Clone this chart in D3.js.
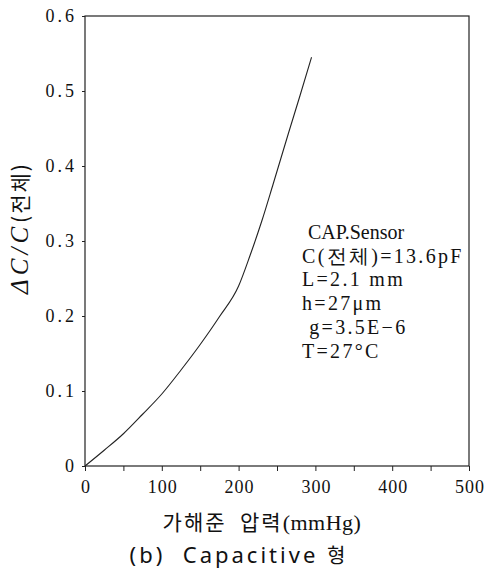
<!DOCTYPE html>
<html>
<head>
<meta charset="utf-8">
<script src="https://cdn.jsdelivr.net/npm/d3@7"></script>
<style>
  body { margin: 0; background: #fff; }
  svg text { fill: #111; }
</style>
</head>
<body>
<div id="chart"></div>
<script>
// data
const pressure = [0, 25, 50, 75, 100, 125, 150, 175, 200, 215, 230, 245, 265, 280, 295];
const dcc = [0, 0.021, 0.043, 0.069, 0.096, 0.128, 0.162, 0.199, 0.24, 0.281, 0.326, 0.376, 0.444, 0.494, 0.545];
const xTicks = [0, 100, 200, 300, 400, 500];
const xMinor = [50, 150, 250, 350, 450];
const yTicks = [0, 0.1, 0.2, 0.3, 0.4, 0.5, 0.6];
const notes = ["CAP.Sensor", "C(전체)=13.6pF", "L=2.1 mm", "h=27μm", " g=3.5E−6", "T=27°C"];

const W = 489, H = 570;
const margin = { top: 16, right: 20, bottom: 104, left: 85 };
const width = W - margin.left - margin.right;
const height = H - margin.top - margin.bottom;
const serif = "Liberation Serif";

const svg = d3.select("#chart").append("svg")
    .attr("width", W)
    .attr("height", H)
    .append("g")
    .attr("transform", `translate(${margin.left},${margin.top})`);

const x = d3.scaleLinear().domain([0, 500]).range([0, width]);
const y = d3.scaleLinear().domain([0, 0.6]).range([height, 0]);

// frame
svg.append("rect")
    .attr("width", width)
    .attr("height", height)
    .attr("fill", "none")
    .attr("stroke", "#222")
    .attr("stroke-width", 1.2);

// x axis ticks (labels drawn separately)
svg.append("g")
    .attr("transform", `translate(0,${height})`)
    .call(d3.axisBottom(x).tickValues(xTicks.concat(xMinor)).tickSize(5).tickFormat(""));

// y axis ticks
svg.append("g")
    .call(d3.axisLeft(y).tickValues(yTicks).tickSize(3).tickFormat(""));

svg.selectAll(".domain").remove();
svg.selectAll(".tick line").attr("stroke", "#222");

// tick labels
svg.append("g").selectAll("text")
    .data(xTicks).enter().append("text")
    .attr("x", d => x(d) + 1)
    .attr("y", height + 27)
    .attr("text-anchor", "middle")
    .style("font-family", serif)
    .style("font-size", "18px")
    .style("letter-spacing", "1px")
    .text(d => d);

svg.append("g").selectAll("text")
    .data(yTicks).enter().append("text")
    .attr("x", -8)
    .attr("y", d => y(d) + 6)
    .attr("text-anchor", "end")
    .style("font-family", serif)
    .style("font-size", "18px")
    .style("letter-spacing", "3px")
    .text(d => d === 0 ? "0" : d3.format(".1f")(d));

// curve
const line = d3.line()
    .x((d, i) => x(pressure[i]))
    .y(d => y(d))
    .curve(d3.curveMonotoneX);

svg.append("path")
    .datum(dcc)
    .attr("fill", "none")
    .attr("stroke", "#222")
    .attr("stroke-width", 1.1)
    .attr("d", line);

// annotation
svg.append("g").selectAll("text")
    .data(notes).enter().append("text")
    .attr("x", (d, i) => i === 0 ? 223 : 217)
    .attr("y", (d, i) => 223 + i * 23.7)
    .attr("xml:space", "preserve")
    .style("font-family", serif)
    .style("font-size", "20px")
    .style("letter-spacing", (d, i) => i === 0 ? "0px" : "2.3px")
    .text(d => d);

// axis labels
svg.append("text")
    .attr("transform", "rotate(-90)")
    .attr("x", -212)
    .attr("y", -57)
    .attr("text-anchor", "middle")
    .style("font-family", serif)
    .style("font-size", "25px")
    .style("letter-spacing", "4px")
    .html("<tspan font-style='italic'>ΔC/C</tspan><tspan style='font-family:Noto Sans CJK KR;font-size:21px;letter-spacing:2px'>(전체)</tspan>");

svg.append("text")
    .attr("x", 177)
    .attr("y", height + 64)
    .attr("text-anchor", "middle")
    .attr("xml:space", "preserve")
    .style("font-family", "Noto Sans CJK KR")
    .style("font-size", "21px")
    .style("letter-spacing", "2px")
    .html("가해준  압력<tspan style='font-family:Liberation Serif;font-size:22px;letter-spacing:0.5px'>(mmHg)</tspan>");

svg.append("text")
    .attr("x", 154)
    .attr("y", height + 97)
    .attr("text-anchor", "middle")
    .attr("xml:space", "preserve")
    .style("font-family", "Noto Sans")
    .style("font-size", "22px")
    .style("letter-spacing", "3px")
    .html("(b)  Capacitive <tspan style='font-family:Noto Sans CJK KR;font-size:20px'>형</tspan>");
</script>
</body>
</html>
